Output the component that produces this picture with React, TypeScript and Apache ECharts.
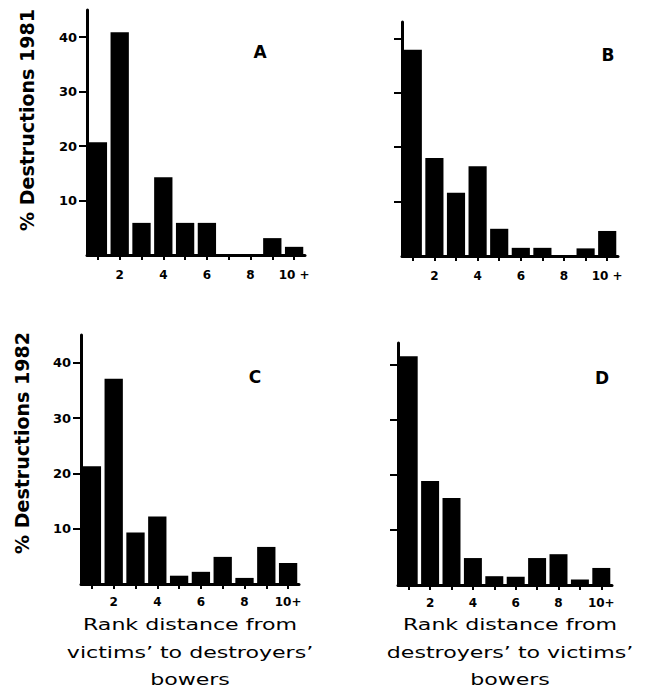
import React, { useEffect, useRef } from "react";
import * as echarts from "echarts";

const categoriesTop = ["1", "2", "3", "4", "5", "6", "7", "8", "9", "10 +"];
const categoriesBottom = ["1", "2", "3", "4", "5", "6", "7", "8", "9", "10+"];
const valuesA = [20.7, 40.9, 5.9, 14.3, 5.9, 5.9, 0, 0, 3.1, 1.5];
const valuesB = [37.9, 18, 11.6, 16.5, 5, 1.5, 1.5, 0, 1.4, 4.6];
const valuesC = [21.3, 37.1, 9.3, 12.2, 1.5, 2.2, 4.9, 1.1, 6.7, 3.8];
const valuesD = [41.6, 18.9, 15.8, 4.9, 1.6, 1.5, 4.9, 5.6, 1, 3.1];
const yTicks = [10, 20, 30, 40];
const panelLetters = ["A", "B", "C", "D"];
const yNames = ["% Destructions 1981", "% Destructions 1982"];
const xNameC = ["Rank distance from", "victims\u2019 to destroyers\u2019", "bowers"];
const xNameD = ["Rank distance from", "destroyers\u2019 to victims\u2019", "bowers"];

const FONT = "'DejaVu Sans', 'Liberation Sans', sans-serif";

const panels = [
  { cats: categoriesTop, values: valuesA, grid: { left: 87, top: 10, width: 218, height: 245 }, max: 45, labels: true, letter: { x: 260, y: 52 }, lblMargin: 14 },
  { cats: categoriesTop, values: valuesB, grid: { left: 402, top: 22, width: 216, height: 234 }, max: 43, labels: false, letter: { x: 608, y: 55 }, lblMargin: 14 },
  { cats: categoriesBottom, values: valuesC, grid: { left: 81, top: 335, width: 218, height: 249 }, max: 45, labels: true, letter: { x: 255, y: 377 }, lblMargin: 12 },
  { cats: categoriesBottom, values: valuesD, grid: { left: 398, top: 343, width: 214, height: 242 }, max: 44, labels: false, letter: { x: 602, y: 378 }, lblMargin: 12 },
];

export default function App() {
  const ref = useRef<HTMLDivElement>(null);
  useEffect(() => {
    document.body.style.margin = "0";
    if (!ref.current) return;
    const chart = echarts.init(ref.current, undefined, { renderer: "svg" });

    const graphic: any[] = [];
    panels.forEach((p, i) => {
      graphic.push({
        type: "text",
        x: p.letter.x,
        y: p.letter.y,
        silent: true,
        style: { text: panelLetters[i], align: "center", verticalAlign: "middle", fontFamily: FONT, fontWeight: "bold", fontSize: 17, fill: "#000" },
      });
    });
    [{ x: 27, y: 120 }, { x: 22, y: 443 }].forEach((pos, i) => {
      graphic.push({
        type: "text",
        x: pos.x,
        y: pos.y,
        rotation: Math.PI / 2,
        silent: true,
        style: { text: yNames[i], align: "center", verticalAlign: "middle", fontFamily: FONT, fontWeight: "bold", fontSize: 19, fill: "#000" },
      });
    });
    const lineY = [625, 653, 680];
    [{ cx: 190, lines: xNameC }, { cx: 510, lines: xNameD }].forEach((blk) => {
      blk.lines.forEach((t, j) => {
        graphic.push({
          type: "text",
          x: blk.cx,
          y: lineY[j],
          scaleX: 1.38,
          silent: true,
          style: { text: t, align: "center", verticalAlign: "middle", fontFamily: FONT, fontSize: 16, fill: "#000" },
        });
      });
    });

    chart.setOption({
      animation: false,
      backgroundColor: "#fff",
      grid: panels.map((p) => ({ ...p.grid, containLabel: false })),
      xAxis: panels.map((p, i) => ({
        type: "category",
        gridIndex: i,
        data: p.cats,
        boundaryGap: true,
        axisLine: { show: true, lineStyle: { color: "#000", width: 3 } },
        axisTick: { show: true, alignWithLabel: true, interval: 0, length: 5, lineStyle: { color: "#000", width: 2 } },
        axisLabel: {
          interval: (idx: number) => idx % 2 === 1,
          margin: p.lblMargin,
          fontFamily: FONT,
          fontWeight: "bold",
          fontSize: 12,
          color: "#000",
        },
        splitLine: { show: false },
      })),
      yAxis: panels.map((p, i) => ({
        type: "value",
        gridIndex: i,
        min: 0,
        max: p.max,
        interval: 10,
        axisLine: { show: true, lineStyle: { color: "#000", width: 3 } },
        axisTick: { show: true, length: 8, customValues: yTicks, lineStyle: { color: "#000", width: 2 } },
        axisLabel: {
          show: p.labels,
          customValues: yTicks,
          margin: 10,
          fontFamily: FONT,
          fontWeight: "bold",
          fontSize: 13,
          color: "#000",
        },
        splitLine: { show: false },
      })),
      series: panels.map((p, i) => ({
        type: "bar",
        xAxisIndex: i,
        yAxisIndex: i,
        data: p.values,
        barCategoryGap: "16%",
        silent: true,
        itemStyle: { color: "#000" },
      })),
      graphic,
    });
    return () => chart.dispose();
  }, []);
  return <div ref={ref} style={{ width: 646, height: 692 }} />;
}
